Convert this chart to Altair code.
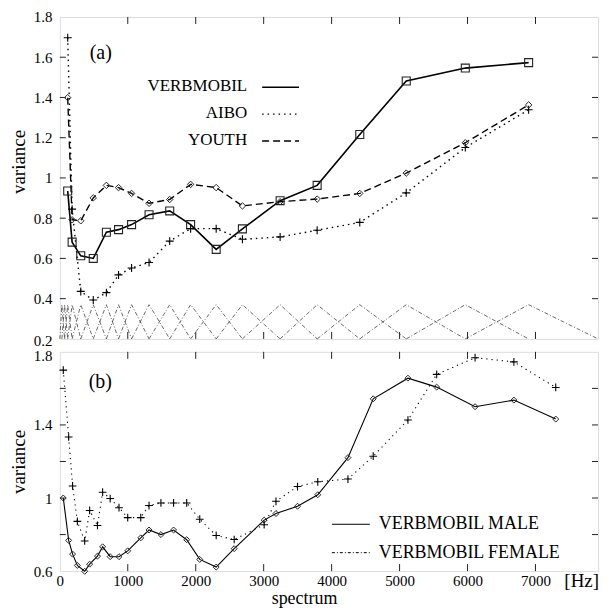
import altair as alt
import pandas as pd

FONT = "'Liberation Serif', 'Times New Roman', Times, serif"

# ---------------- panel (a) ----------------
top_hz = [116, 181, 308, 492, 685, 864, 1056, 1313, 1617, 1925, 2301, 2687,
          3242, 3787, 4414, 5098, 5967, 6899]
verbmobil = [0.935, 0.681, 0.613, 0.600, 0.730, 0.743, 0.768, 0.817, 0.836, 0.768,
             0.645, 0.747, 0.887, 0.963, 1.216, 1.482, 1.546, 1.573]
aibo = [1.697, 0.845, 0.436, 0.393, 0.430, 0.518, 0.552, 0.580, 0.686, 0.748,
        0.748, 0.695, 0.707, 0.740, 0.779, 0.926, 1.151, 1.339]
youth = [1.399, 0.792, 0.787, 0.901, 0.963, 0.952, 0.923, 0.874, 0.893, 0.968,
         0.952, 0.861, 0.882, 0.895, 0.923, 1.024, 1.175, 1.363]
filter_edges = [0, 30, 70] + top_hz + [7920]
filter_base, filter_peak = 0.2, 0.37

# ---------------- panel (b) ----------------
bot_hz = [51, 130, 188, 258, 366, 439, 554, 630, 741, 871, 999, 1191, 1313, 1488,
          1674, 1867, 2059, 2301, 2566, 3007, 3181, 3498, 3796, 4240, 4612, 5123,
          5546, 6111, 6682, 7298]
male = [1.000, 0.768, 0.693, 0.631, 0.599, 0.638, 0.682, 0.733, 0.679, 0.679,
        0.711, 0.782, 0.825, 0.800, 0.825, 0.772, 0.664, 0.622, 0.723, 0.879,
        0.915, 0.955, 1.018, 1.221, 1.543, 1.656, 1.607, 1.500, 1.536, 1.432]
female = [1.700, 1.334, 1.066, 0.872, 0.765, 0.932, 0.850, 1.032, 0.997, 0.947,
          0.893, 0.893, 0.959, 0.973, 0.973, 0.973, 0.884, 0.795, 0.773, 0.854,
          0.982, 1.063, 1.089, 1.104, 1.229, 1.427, 1.677, 1.768, 1.745, 1.605]

x_ticks = [1000, 2000, 3000, 4000, 5000, 6000, 7000]
x_labels = [0, 1000, 2000, 3000, 4000, 5000, 6000, 7000]
top_y_labels = [0.2, 0.4, 0.6, 0.8, 1.0, 1.2, 1.4, 1.6, 1.8]
top_y_ticks = [0.4, 0.6, 0.8, 1.0, 1.2, 1.4, 1.6]
bot_y_labels = [0.6, 1.0, 1.4, 1.8]
bot_y_ticks = [0.8, 1.0, 1.2, 1.4, 1.6]

X_DOMAIN = [0, 7920]
W = 540
H_TOP = 323
H_BOT = 220

PLUS = "M-1,0L1,0M0,-1L0,1"


def xenc(field, show):
    if show:
        ax = alt.Axis(values=x_labels, format="d", ticks=False, tickSize=0, domain=False,
                      grid=False, labelFlush=False, labelOverlap=False, labelPadding=2,
                      labelFont=FONT, labelFontSize=15, labelColor="black",
                      title="spectrum", titleFont=FONT, titleFontSize=18,
                      titleFontWeight="normal", titleColor="black",
                      titleX=245, titleY=32, titleBaseline="alphabetic", titleAlign="center")
    else:
        ax = None
    return alt.X(f"{field}:Q", scale=alt.Scale(domain=X_DOMAIN, nice=False, zero=False), axis=ax)


def yenc(field, domain, labels, title_y, offset_test, offset_val):
    ax = alt.Axis(values=labels, format=".1~f", ticks=False, tickSize=0, domain=False,
                  grid=False, labelFlush=False, labelOverlap=False, labelPadding=8,
                  labelFont=FONT, labelFontSize=15, labelColor="black",
                  labelOffset={"condition": {"test": offset_test, "value": offset_val},
                               "value": 0},
                  title="variance", titleFont=FONT, titleFontSize=19,
                  titleFontWeight="normal", titleColor="black",
                  titleX=-41, titleY=title_y, titleBaseline="middle", titleAngle=-90,
                  titleAlign="center")
    return alt.Y(f"{field}:Q", scale=alt.Scale(domain=domain, nice=False, zero=False), axis=ax)


def tick_layers(X, Y, yticks, h):
    xt = pd.DataFrame({"hz": x_ticks})
    yt = pd.DataFrame({"v": yticks})
    rc = dict(color="#222", strokeWidth=1)
    return [
        alt.Chart(xt).mark_rule(**rc).encode(x=X, y=alt.value(0), y2=alt.value(7)),
        alt.Chart(xt).mark_rule(**rc).encode(x=X, y=alt.value(h - 7), y2=alt.value(h)),
        alt.Chart(yt).mark_rule(**rc).encode(y=Y, x=alt.value(0), x2=alt.value(6)),
        alt.Chart(yt).mark_rule(**rc).encode(y=Y, x=alt.value(W - 6), x2=alt.value(W)),
    ]


# ----- build panel (a) -----
TOP_DOM = [0.2, 1.8]
TOP_TY = 145
rows = []
for i in range(1, len(filter_edges) - 1):
    rows += [dict(fid=i, hz=filter_edges[i - 1], v=filter_base),
             dict(fid=i, hz=filter_edges[i], v=filter_peak),
             dict(fid=i, hz=filter_edges[i + 1], v=filter_base)]
filt_df = pd.DataFrame(rows)

Xa = xenc("hz", False)
Ya = yenc("v", TOP_DOM, top_y_labels, TOP_TY, "datum.value < 0.3", 2)

filters = alt.Chart(filt_df).mark_line(strokeDash=[4, 2, 1, 2], strokeWidth=0.8,
                                       color="#444").encode(x=Xa, y=Ya, detail="fid:N")

vm_df = pd.DataFrame({"hz": top_hz, "v": verbmobil})
ai_df = pd.DataFrame({"hz": top_hz, "v": aibo})
yo_df = pd.DataFrame({"hz": top_hz, "v": youth})

vm_line = alt.Chart(vm_df).mark_line(color="black", strokeWidth=1.6).encode(x=Xa, y=Ya)
vm_pts = alt.Chart(vm_df).mark_point(shape="square", size=64, filled=False, color="#222",
                                     strokeWidth=1.1, opacity=1).encode(x=Xa, y=Ya)
ai_line = alt.Chart(ai_df).mark_line(color="black", strokeWidth=1.4,
                                     strokeDash=[1.5, 4]).encode(x=Xa, y=Ya)
ai_pts = alt.Chart(ai_df).mark_point(shape=PLUS, size=64, filled=False, color="black",
                                     strokeWidth=1.1, opacity=1).encode(x=Xa, y=Ya)
yo_line = alt.Chart(yo_df).mark_line(color="black", strokeWidth=1.4,
                                     strokeDash=[7, 4]).encode(x=Xa, y=Ya)
yo_pts = alt.Chart(yo_df).mark_point(shape="diamond", size=42, filled=False, color="#222",
                                     strokeWidth=1, opacity=1).encode(x=Xa, y=Ya)

leg_a = []
for label, yy, dash in [("VERBMOBIL", 69.5, None), ("AIBO", 96.5, [1.5, 4]), ("YOUTH", 123.5, [7, 4])]:
    leg_a.append(alt.Chart().mark_text(font=FONT, fontSize=17, align="right", baseline="middle",
                                       color="black").encode(
        x=alt.value(188), y=alt.value(yy), text=alt.value(label)))
    rk = dict(color="black", strokeWidth=1.6 if dash is None else 1.4)
    if dash is not None:
        rk["strokeDash"] = dash
    leg_a.append(alt.Chart().mark_rule(**rk).encode(
        x=alt.value(203), x2=alt.value(240), y=alt.value(yy + 1)))

lab_a = alt.Chart().mark_text(font=FONT, fontSize=20, align="left", baseline="middle",
                              color="black").encode(x=alt.value(30), y=alt.value(36.5),
                                                    text=alt.value("(a)"))

top = alt.layer(
    filters, vm_line, ai_line, yo_line, vm_pts, ai_pts, yo_pts,
    *tick_layers(Xa, Ya, top_y_ticks, H_TOP),
    *leg_a, lab_a
).properties(width=W, height=H_TOP)

# ----- build panel (b) -----
BOT_DOM = [0.6, 1.8]
BOT_TY = 110
Xb = xenc("hz", True)
Yb = yenc("v", BOT_DOM, bot_y_labels, BOT_TY, "datum.value > 1.7", 4)

ma_df = pd.DataFrame({"hz": bot_hz, "v": male})
fe_df = pd.DataFrame({"hz": bot_hz, "v": female})

ma_line = alt.Chart(ma_df).mark_line(color="black", strokeWidth=1.1).encode(x=Xb, y=Yb)
ma_pts = alt.Chart(ma_df).mark_point(shape="diamond", size=36, filled=False, color="#222",
                                     strokeWidth=1, opacity=1).encode(x=Xb, y=Yb)
fe_line = alt.Chart(fe_df).mark_line(color="black", strokeWidth=1.1,
                                     strokeDash=[1.2, 4]).encode(x=Xb, y=Yb)
fe_pts = alt.Chart(fe_df).mark_point(shape=PLUS, size=60, filled=False, color="black",
                                     strokeWidth=1.1, opacity=1).encode(x=Xb, y=Yb)

leg_b = []
for label, yy, dash in [("VERBMOBIL MALE", 173, None), ("VERBMOBIL FEMALE", 201.5, [3, 2, 1, 2])]:
    leg_b.append(alt.Chart().mark_text(font=FONT, fontSize=18, align="left", baseline="middle",
                                       color="black").encode(
        x=alt.value(320), y=alt.value(yy), text=alt.value(label)))
    rk = dict(color="black", strokeWidth=1)
    if dash is not None:
        rk["strokeDash"] = dash
    leg_b.append(alt.Chart().mark_rule(**rk).encode(
        x=alt.value(273), x2=alt.value(311), y=alt.value(yy)))

lab_b = alt.Chart().mark_text(font=FONT, fontSize=20, align="left", baseline="middle",
                              color="black").encode(x=alt.value(29), y=alt.value(30.5),
                                                    text=alt.value("(b)"))
hz_lab = alt.Chart().mark_text(font=FONT, fontSize=19, align="right", baseline="middle",
                               color="black").encode(x=alt.value(W + 1), y=alt.value(230),
                                                     text=alt.value("[Hz]"))

bottom = alt.layer(
    ma_line, fe_line, ma_pts, fe_pts,
    *tick_layers(Xb, Yb, bot_y_ticks, H_BOT),
    *leg_b, lab_b, hz_lab
).properties(width=W, height=H_BOT)

chart = alt.vconcat(top, bottom, spacing=13, bounds="flush").properties(
    padding={"left": 1, "top": 0, "right": 0, "bottom": 0}
).configure_view(stroke="#222", strokeWidth=1.3).configure(background="white")

chart.save("out.html", embed_options={"renderer": "svg", "actions": False})
